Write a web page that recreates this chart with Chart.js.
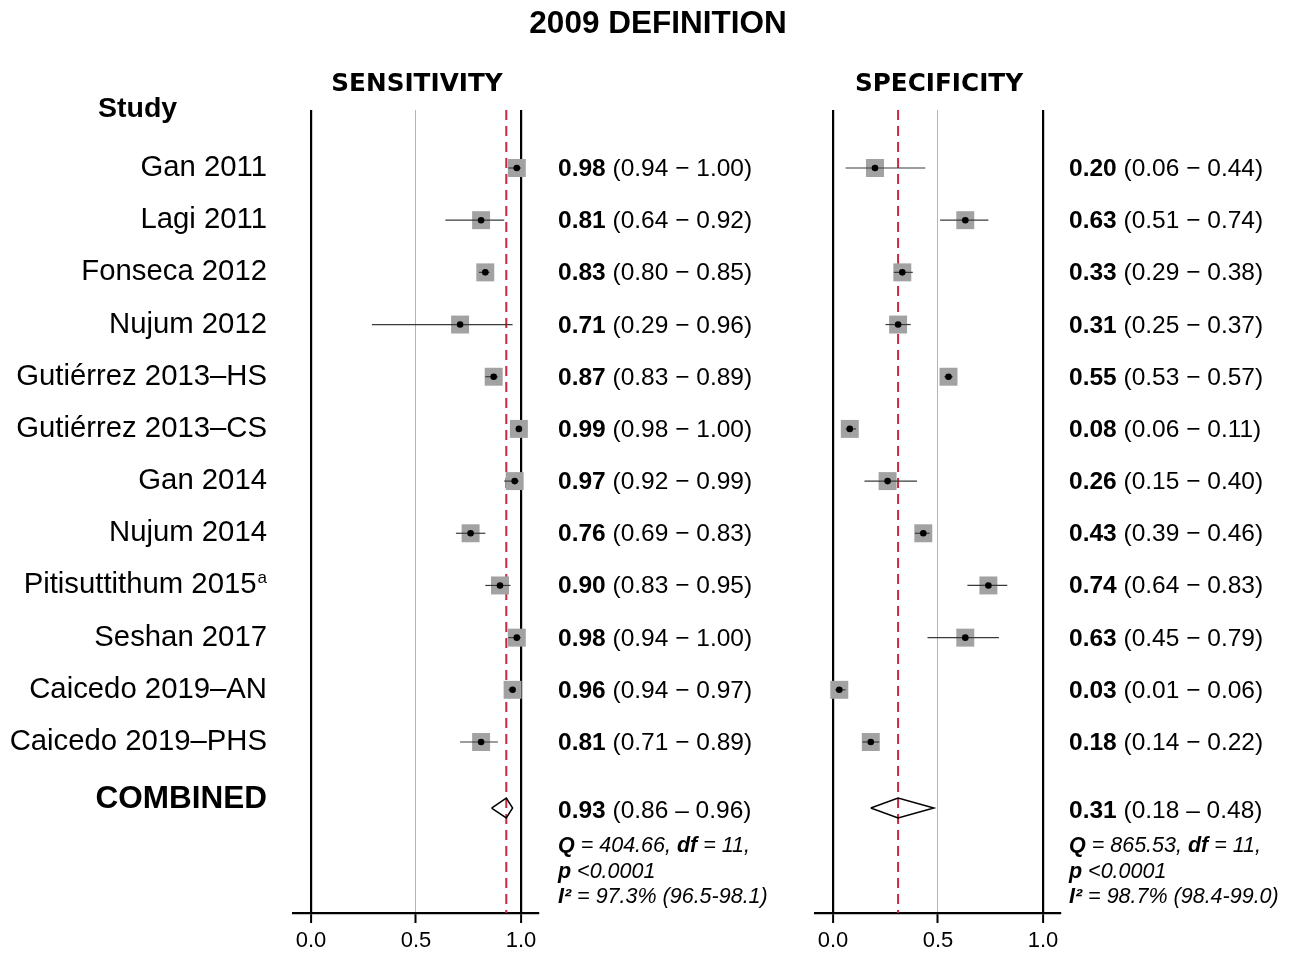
<!DOCTYPE html>
<html><head><meta charset="utf-8">
<script src="https://cdn.jsdelivr.net/npm/chart.js@4.4.1/dist/chart.umd.min.js"></script>
<style>
html,body{margin:0;padding:0;background:#fff;}
#wrap{position:relative;width:1292px;height:953px;overflow:hidden;}
#cA{position:absolute;left:0;top:0;}
#cB{position:absolute;left:800px;top:0;}
</style></head><body>
<div id="wrap"><canvas id="cA" width="800" height="953"></canvas><canvas id="cB" width="492" height="953"></canvas></div>
<script>
// ---------- DATA ----------
const studies = ["Gan 2011","Lagi 2011","Fonseca 2012","Nujum 2012","Gutiérrez 2013–HS","Gutiérrez 2013–CS","Gan 2014","Nujum 2014","Pitisuttithum 2015","Seshan 2017","Caicedo 2019–AN","Caicedo 2019–PHS"];
const studyNotes = ["","","","","","","","","a","","",""];
const sensEst = [0.98,0.81,0.83,0.71,0.87,0.99,0.97,0.76,0.90,0.98,0.96,0.81];
const sensLo  = [0.94,0.64,0.80,0.29,0.83,0.98,0.92,0.69,0.83,0.94,0.94,0.71];
const sensHi  = [1.00,0.92,0.85,0.96,0.89,1.00,0.99,0.83,0.95,1.00,0.97,0.89];
const specEst = [0.20,0.63,0.33,0.31,0.55,0.08,0.26,0.43,0.74,0.63,0.03,0.18];
const specLo  = [0.06,0.51,0.29,0.25,0.53,0.06,0.15,0.39,0.64,0.45,0.01,0.14];
const specHi  = [0.44,0.74,0.38,0.37,0.57,0.11,0.40,0.46,0.83,0.79,0.06,0.22];
const sensPooled = [0.93,0.86,0.96];   // estimate, lower, upper
const specPooled = [0.31,0.18,0.48];
const sensStats = ["404.66","11","<0.0001","97.3% (96.5-98.1)"]; // Q, df, p, I2
const specStats = ["865.53","11","<0.0001","98.7% (98.4-99.0)"];
const xTicks = [0, 0.5, 1];
const chartTitle = "2009 DEFINITION";
const panelTitles = ["SENSITIVITY","SPECIFICITY"];

// ---------- LAYOUT / STYLE ----------
const FONT = "'Liberation Sans', Arial, sans-serif";
const Y_MIN = -0.1115, Y_MAX = 15.277;
const COMBINED_ROW = studies.length + 1.265;
const X_MIN = -0.0857, X_MAX = 1.081;
const SQUARE = '#a2a2a2';
const RED = '#c8283f';

function drawRuns(ctx, x, y, runs){
  ctx.textAlign='left'; ctx.textBaseline='alphabetic'; ctx.fillStyle='#000';
  let cx=x;
  for (const [t,f] of runs){ ctx.font=f; ctx.fillText(t,cx,y); cx+=ctx.measureText(t).width; }
}

function makePanel(canvas, cfg){
  const n = studies.length;
  const datasets = [];
  // squares
  datasets.push({data: cfg.est.map((v,i)=>({x:v,y:i+1})), pointStyle:'rect', pointRadius:12.7,
    backgroundColor:SQUARE, borderWidth:0, order:3});
  // CI lines
  for (let i=0;i<n;i++){
    datasets.push({data:[{x:cfg.lo[i],y:i+1},{x:cfg.hi[i],y:i+1}], showLine:true, borderColor:'#3a3a3a',
      borderWidth:1.2, pointRadius:0, order:2});
  }
  // dots
  datasets.push({data: cfg.est.map((v,i)=>({x:v,y:i+1})), pointStyle:'circle', pointRadius:3.3,
    backgroundColor:'#000', borderWidth:0, order:1});
  // pooled dashed line
  datasets.push({data:[{x:cfg.pooled[0],y:Y_MIN},{x:cfg.pooled[0],y:Y_MAX}], showLine:true, borderColor:RED,
    borderWidth:2, borderDash:[10,6], pointRadius:0, order:4});
  // diamond
  const h = 0.19;
  datasets.push({data:[{x:cfg.pooled[1],y:COMBINED_ROW},{x:cfg.pooled[0],y:COMBINED_ROW-h},{x:cfg.pooled[2],y:COMBINED_ROW},
    {x:cfg.pooled[0],y:COMBINED_ROW+h},{x:cfg.pooled[1],y:COMBINED_ROW}], showLine:true, borderColor:'#000',
    borderWidth:1.5, pointRadius:0, fill:false, order:0});

  const textPlugin = {
    id:'txt'+cfg.id,
    afterDraw(chart){
      const ctx = chart.ctx, xs = chart.scales.x, ys = chart.scales.y;
      ctx.save();
      // panel heading
      ctx.fillStyle='#000'; ctx.textAlign='center'; ctx.textBaseline='alphabetic';
      ctx.font = "bold 24.7px 'DejaVu Sans', sans-serif";
      ctx.fillText(cfg.heading, xs.getPixelForValue(0.5)+1, 91);
      if (cfg.left){
        ctx.font = "bold 31.5px "+FONT;
        ctx.fillText(chartTitle, 658, 33);
        ctx.textAlign='left';
        ctx.font = "bold 28.5px "+FONT;
        ctx.fillText("Study", 98, 117);
        for (let i=0;i<n;i++){
          const y = ys.getPixelForValue(i+1)+8;
          let right = 267;
          ctx.textAlign='right';
          if (studyNotes[i]){
            ctx.font = "17px "+FONT;
            ctx.fillText(studyNotes[i], right, y-10);
            right -= ctx.measureText(studyNotes[i]).width + 1;
          }
          ctx.font = "29.3px "+FONT;
          ctx.fillText(studies[i], right, y);
        }
        ctx.font = "bold 31.5px "+FONT;
        ctx.textAlign='right';
        ctx.fillText("COMBINED", 267, ys.getPixelForValue(COMBINED_ROW));
      }
      const tx = cfg.textX;
      const B = "bold 24.5px "+FONT, R = "24.5px "+FONT;
      for (let i=0;i<n;i++){
        const y = ys.getPixelForValue(i+1)+8;
        drawRuns(ctx, tx, y, [[cfg.est[i].toFixed(2), B], [" ("+cfg.lo[i].toFixed(2)+" \u2212 "+cfg.hi[i].toFixed(2)+")", R]]);
      }
      const cy = ys.getPixelForValue(COMBINED_ROW);
      drawRuns(ctx, tx, cy+10, [[cfg.pooled[0].toFixed(2), B], [" ("+cfg.pooled[1].toFixed(2)+" \u2013 "+cfg.pooled[2].toFixed(2)+")", R]]);
      const BI = "italic bold 21.5px "+FONT, I = "italic 21.5px "+FONT;
      const s = cfg.stats;
      drawRuns(ctx, tx, cy+44, [["Q",BI],[" = "+s[0]+", ",I],["df",BI],[" = "+s[1]+",",I]]);
      drawRuns(ctx, tx, cy+70, [["p",BI],[" "+s[2],I]]);
      drawRuns(ctx, tx, cy+95, [["I\u00B2",BI],[" = "+s[3],I]]);
      ctx.restore();
    }
  };

  return new Chart(canvas, {
    type:'scatter',
    data:{datasets},
    options:{
      responsive:false, animation:false, events:[],
      layout:{padding:{left:cfg.padL, right:cfg.padR, top:110, bottom:0}},
      plugins:{legend:{display:false}, tooltip:{enabled:false}, title:{display:false}},
      scales:{
        x:{type:'linear', min:X_MIN, max:X_MAX,
          afterBuildTicks:(sc)=>{ sc.ticks = xTicks.map(v=>({value:v})); },
          afterFit:(sc)=>{ sc.height = 40; },
          ticks:{color:'#000', font:{family:FONT, size:22}, padding:5, maxRotation:0,
            callback:(v)=>Number(v).toFixed(1)},
          grid:{drawOnChartArea:true, drawTicks:true, tickLength:10, tickColor:'#000', tickWidth:2,
            color:(c)=> (c.tick && c.tick.value===0.5) ? '#b4b4b4' : '#000',
            lineWidth:(c)=> (c.tick && c.tick.value===0.5) ? 1 : 2.2},
          border:{display:true, color:'#000', width:2.2}
        },
        y:{type:'linear', reverse:true, min:Y_MIN, max:Y_MAX, display:false}
      }
    },
    plugins:[textPlugin]
  });
}

makePanel(document.getElementById('cA'), {id:'A', left:true, heading:panelTitles[0], est:sensEst, lo:sensLo, hi:sensHi,
  pooled:sensPooled, stats:sensStats, padL:293, padR:800-538, textX:558});
makePanel(document.getElementById('cB'), {id:'B', left:false, heading:panelTitles[1], est:specEst, lo:specLo, hi:specHi,
  pooled:specPooled, stats:specStats, padL:15, padR:492-260, textX:269});
</script>
</body></html>
